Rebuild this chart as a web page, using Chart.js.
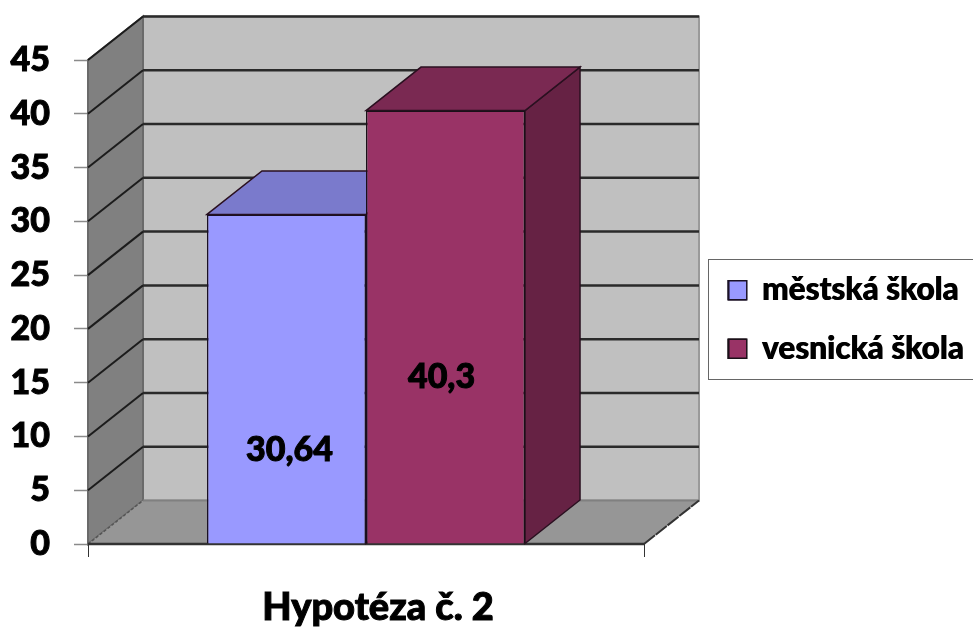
<!DOCTYPE html>
<html>
<head>
<meta charset="utf-8">
<script src="https://cdn.jsdelivr.net/npm/chart.js@4"></script>
<style>
  body { margin: 0; background: #fff; }
  canvas { display: block; }
</style>
</head>
<body>
<canvas id="chart" width="973" height="627"></canvas>
<script>
const categories = ["Hypotéza č. 2"];
const seriesNames = ["městská škola", "vesnická škola"];
const mestskaValues = [30.64];
const vesnickaValues = [40.3];
const valueLabels = ["30,64", "40,3"];

const FONT = "Lato, 'Open Sans', sans-serif";
const DEPTH_X = 55;
const DEPTH_Y = 43.5;

const faces = [
  { front: "#9999ff", top: "#7a7acc", side: "#5c5c99" },
  { front: "#993366", top: "#7a2952", side: "#662244" },
];

function poly(ctx, pts, fill, stroke, width) {
  ctx.beginPath();
  pts.forEach((p, i) => (i ? ctx.lineTo(p[0], p[1]) : ctx.moveTo(p[0], p[1])));
  ctx.closePath();
  if (fill) {
    ctx.fillStyle = fill;
    ctx.fill();
  }
  if (stroke) {
    ctx.strokeStyle = stroke;
    ctx.lineWidth = width || 1;
    ctx.stroke();
  }
}

function line(ctx, x1, y1, x2, y2, color, width, dash) {
  ctx.save();
  ctx.beginPath();
  ctx.moveTo(x1, y1);
  ctx.lineTo(x2, y2);
  ctx.strokeStyle = color;
  ctx.lineWidth = width;
  if (dash) ctx.setLineDash(dash);
  ctx.stroke();
  ctx.restore();
}

// Excel style 3D box: walls, floor and the extra faces of the bars
const box3d = {
  id: "box3d",
  beforeLayout(chart) {
    const legend = chart.legend;
    if (legend && !legend._fitWrapped) {
      const fit = legend.fit;
      const draw = legend.draw;
      legend.fit = function () {
        fit.call(this);
        this.width = 329;
      };
      // legend has no text stroke option, draw it twice to get the heavy look
      legend.draw = function () {
        draw.call(this);
        this.left += 0.8;
        draw.call(this);
        this.left -= 0.8;
      };
      legend._fitWrapped = true;
    }
  },
  afterLayout(chart) {
    const legend = chart.legend;
    legend.left = 701;
    legend.right = 973;
    legend.top -= 24;
    legend.bottom -= 24;
  },
  beforeDraw(chart) {
    const ctx = chart.ctx;
    ctx.save();
    ctx.fillStyle = "#fff";
    ctx.strokeStyle = "#666";
    ctx.lineWidth = 1;
    ctx.fillRect(708.5, 259.5, 270, 120);
    ctx.strokeRect(708.5, 259.5, 270, 120);
    ctx.restore();
  },
  beforeDatasetsDraw(chart) {
    const ctx = chart.ctx;
    const { left, right } = chart.chartArea;
    const y = chart.scales.y;
    const y0 = y.getPixelForValue(0);
    const yTop = y.getPixelForValue(45);

    ctx.save();
    poly(ctx, [[left + DEPTH_X, yTop - DEPTH_Y], [right + DEPTH_X, yTop - DEPTH_Y], [right + DEPTH_X, y0 - DEPTH_Y], [left + DEPTH_X, y0 - DEPTH_Y]], "#c0c0c0", "#9a9a9a", 2);
    poly(ctx, [[left, yTop], [left + DEPTH_X, yTop - DEPTH_Y], [left + DEPTH_X, y0 - DEPTH_Y], [left, y0]], "#808080", "#6a6a6a", 2);
    poly(ctx, [[left, y0], [left + DEPTH_X, y0 - DEPTH_Y], [right + DEPTH_X, y0 - DEPTH_Y], [right, y0]], "#969696");

    y.ticks.forEach((t) => {
      const py = y.getPixelForValue(t.value);
      if (t.value === 0) return;
      line(ctx, left, py, left + DEPTH_X, py - DEPTH_Y, "#1c1c1c", 2);
      line(ctx, left + DEPTH_X, py - DEPTH_Y, right + DEPTH_X, py - DEPTH_Y, "#2a2a2a", 2.5);
    });
    line(ctx, left + DEPTH_X, y0 - DEPTH_Y, right + DEPTH_X, y0 - DEPTH_Y, "#808080", 2);
    line(ctx, left, y0, left + DEPTH_X, y0 - DEPTH_Y, "#555", 1.5, [3, 2]);
    line(ctx, right, y0, right + DEPTH_X, y0 - DEPTH_Y, "#333", 2, [14, 1]);
    line(ctx, left, y0, right, y0, "#333", 2.5);

    chart.data.datasets.forEach((ds, i) => {
      const bar = chart.getDatasetMeta(i).data[0];
      const l = bar.x - bar.width / 2;
      const r = bar.x + bar.width / 2;
      poly(ctx, [[r, bar.y], [r + DEPTH_X, bar.y - DEPTH_Y], [r + DEPTH_X, bar.base - DEPTH_Y], [r, bar.base]], faces[i].side, "#2a1020", 1.5);
      poly(ctx, [[l, bar.y], [l + DEPTH_X, bar.y - DEPTH_Y], [r + DEPTH_X, bar.y - DEPTH_Y], [r, bar.y]], faces[i].top, "#2a1020", 1.5);
    });
    ctx.restore();
  },
  afterDatasetsDraw(chart, args, opts) {
    const ctx = chart.ctx;
    ctx.save();
    ctx.fillStyle = "#000";
    ctx.strokeStyle = "#000";
    ctx.lineWidth = 1;
    ctx.font = "900 34px " + FONT;
    ctx.textAlign = "center";
    ctx.textBaseline = "middle";
    valueLabels.forEach((text, i) => {
      const bar = chart.getDatasetMeta(i).data[0];
      const px = bar.x + opts.shift[i];
      const py = bar.base - opts.lift[i];
      ctx.fillText(text, px, py);
      ctx.strokeText(text, px, py);
    });
    ctx.restore();
  },
};

new Chart(document.getElementById("chart"), {
  type: "bar",
  data: {
    labels: categories,
    datasets: [
      { label: seriesNames[0], data: mestskaValues, backgroundColor: faces[0].front, borderColor: "#1a1024", borderWidth: 1.5 },
      { label: seriesNames[1], data: vesnickaValues, backgroundColor: faces[1].front, borderColor: "#1a1018", borderWidth: 1.5 },
    ],
  },
  options: {
    responsive: false,
    animation: false,
    categoryPercentage: 0.572,
    barPercentage: 1,
    layout: { padding: { top: 60, left: 0, right: 0, bottom: 0 } },
    scales: {
      x: {
        afterFit: (s) => { s.height = 83; },
        border: { display: false },
        grid: { offset: true, drawOnChartArea: false, tickLength: 13, tickColor: "#333", tickWidth: 1 },
        ticks: { color: "#000", textStrokeColor: "#000", textStrokeWidth: 1, padding: 28, labelOffset: 12, maxRotation: 0, font: { family: FONT, size: 38, weight: "900" } },
      },
      y: {
        min: 0,
        max: 45,
        afterFit: (s) => { s.width = 88; },
        border: { display: false },
        grid: { drawOnChartArea: false, tickLength: 14, tickColor: "#8a8a8a", tickWidth: 1.5 },
        ticks: { stepSize: 5, color: "#000", textStrokeColor: "#000", textStrokeWidth: 1, padding: 24, font: { family: FONT, size: 34, weight: "900" } },
      },
    },
    plugins: {
      tooltip: { enabled: false },
      box3d: { lift: [93, 166], shift: [3, -4] },
      legend: {
        position: "right",
        align: "center",
        labels: {
          color: "#000",
          boxWidth: 18,
          boxHeight: 19,
          padding: 27,
          font: { family: FONT, size: 31.5, weight: "900" },
        },
      },
    },
  },
  plugins: [box3d],
});
</script>
</body>
</html>
